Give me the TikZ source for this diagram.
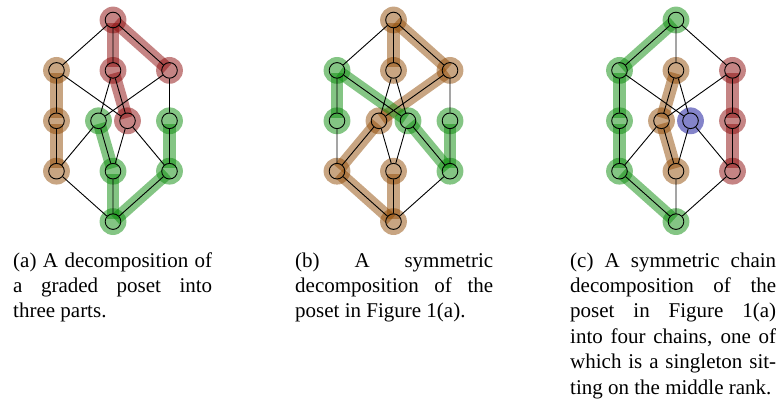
\documentclass[tikz,border=0pt]{standalone}
\usepackage{fontspec}
\setmainfont{Liberation Serif}
\usetikzlibrary{backgrounds}
\definecolor{hred}{RGB}{140,10,10}
\definecolor{hbrown}{RGB}{145,75,5}
\definecolor{hgreen}{RGB}{10,140,10}
\definecolor{hblue}{RGB}{10,10,150}
\tikzset{
  pt/.style={circle,draw=black,line width=0.9pt,minimum size=15.6pt,inner sep=0pt},
  edge/.style={draw=black,line width=0.9pt},
  hl/.style={draw=#1,opacity=0.5,line width=12.5pt,line cap=butt,shorten <=3pt,shorten >=3pt},
  hlc/.style={fill=#1,opacity=0.5},
  capt/.style={anchor=base west,inner sep=0pt}
}
\newcommand\myposet[2]{%
  \node[pt] (#1t) at (#2,20) {};
  \node[pt] (#1l3) at (#2-56.5,70.4) {};
  \node[pt] (#1m3) at (#2,70.4) {};
  \node[pt] (#1r3) at (#2+56.5,70.4) {};
  \node[pt] (#1l2) at (#2-56.5,120.8) {};
  \node[pt] (#1a2) at (#2-14.5,120.8) {};
  \node[pt] (#1b2) at (#2+14.5,120.8) {};
  \node[pt] (#1r2) at (#2+56.5,120.8) {};
  \node[pt] (#1l1) at (#2-56.5,171.2) {};
  \node[pt] (#1m1) at (#2,171.2) {};
  \node[pt] (#1r1) at (#2+56.5,171.2) {};
  \node[pt] (#1b) at (#2,221.6) {};
  \draw[edge] (#1t)--(#1l3) (#1t)--(#1m3) (#1t)--(#1r3)
    (#1l3)--(#1l2) (#1l3)--(#1b2) (#1m3)--(#1a2) (#1m3)--(#1b2)
    (#1r3)--(#1a2) (#1r3)--(#1r2)
    (#1l2)--(#1l1) (#1a2)--(#1l1) (#1a2)--(#1m1) (#1b2)--(#1m1)
    (#1b2)--(#1r1) (#1r2)--(#1r1)
    (#1l1)--(#1b) (#1m1)--(#1b) (#1r1)--(#1b);
}
% #1 colour, #2 first node, #3 second node
\newcommand\hseg[3]{\draw[hl=#1] (#2.center) -- (#3.center);}
\newcommand\hdot[2]{\fill[hlc=#1] (#2.center) circle (13.4pt);}
\newcommand\capline[1]{\makebox[\linewidth][s]{#1}\par}
\newcommand\lastline[1]{\makebox[\linewidth][l]{#1}\par}
\begin{document}
\begin{tikzpicture}[x=1pt,y=-1pt]
\useasboundingbox (0,0) rectangle (777,401);
\myposet{a}{113}
\myposet{b}{393.5}
\myposet{c}{676}
\begin{scope}[on background layer]
  % (a)
  \hseg{hred}{at}{am3} \hseg{hred}{at}{ar3} \hseg{hred}{am3}{ab2}
  \foreach \n in {at,am3,ar3,ab2} {\hdot{hred}{\n}}
  \hseg{hbrown}{al3}{al2} \hseg{hbrown}{al2}{al1}
  \foreach \n in {al3,al2,al1} {\hdot{hbrown}{\n}}
  \hseg{hgreen}{aa2}{am1} \hseg{hgreen}{am1}{ab} \hseg{hgreen}{ab}{ar1} \hseg{hgreen}{ar1}{ar2}
  \foreach \n in {aa2,am1,ab,ar1,ar2} {\hdot{hgreen}{\n}}
  % (b)
  \hseg{hbrown}{bt}{bm3} \hseg{hbrown}{bt}{br3} \hseg{hbrown}{br3}{ba2}
  \hseg{hbrown}{ba2}{bl1} \hseg{hbrown}{bl1}{bb} \hseg{hbrown}{bb}{bm1}
  \foreach \n in {bt,bm3,br3,ba2,bl1,bb,bm1} {\hdot{hbrown}{\n}}
  \hseg{hgreen}{bl3}{bl2} \hseg{hgreen}{bl3}{bb2} \hseg{hgreen}{bb2}{br1} \hseg{hgreen}{br1}{br2}
  \foreach \n in {bl3,bl2,bb2,br1,br2} {\hdot{hgreen}{\n}}
  % (c)
  \hseg{hgreen}{ct}{cl3} \hseg{hgreen}{cl3}{cl2} \hseg{hgreen}{cl2}{cl1} \hseg{hgreen}{cl1}{cb}
  \foreach \n in {ct,cl3,cl2,cl1,cb} {\hdot{hgreen}{\n}}
  \hseg{hbrown}{cm3}{ca2} \hseg{hbrown}{ca2}{cm1}
  \foreach \n in {cm3,ca2,cm1} {\hdot{hbrown}{\n}}
  \hdot{hblue}{cb2}
  \hseg{hred}{cr3}{cr2} \hseg{hred}{cr2}{cr1}
  \foreach \n in {cr3,cr2,cr1} {\hdot{hred}{\n}}
\end{scope}
\node[capt] (capa) at (13,267) {\parbox[t]{199pt}{\fontsize{21}{25.4}\selectfont\parindent0pt
  \capline{(a) A decomposition of}
  \capline{a graded poset into}
  \lastline{three parts.}}};
\node[capt] (capb) at (295,267) {\parbox[t]{198pt}{\fontsize{21}{25.4}\selectfont\parindent0pt
  \capline{(b) A symmetric}
  \capline{decomposition of the}
  \lastline{poset in Figure 1(a).}}};
\node[capt] (capc) at (570,267) {\parbox[t]{206pt}{\fontsize{21}{25.4}\selectfont\parindent0pt
  \capline{(c) A symmetric chain}
  \capline{decomposition of the}
  \capline{poset in Figure 1(a)}
  \capline{into four chains, one of}
  \capline{which is a singleton sit-}
  \lastline{ting on the middle rank.}}};
\end{tikzpicture}
\end{document}
